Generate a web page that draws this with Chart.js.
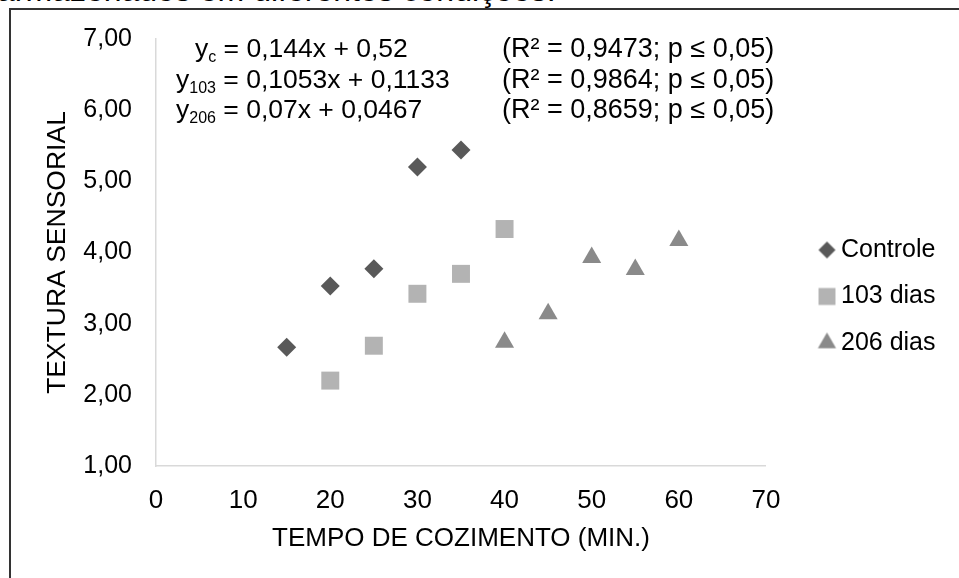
<!DOCTYPE html>
<html>
<head>
<meta charset="utf-8">
<script src="https://cdn.jsdelivr.net/npm/chart.js@4.4.1/dist/chart.umd.min.js"></script>
<style>
  html, body { margin: 0; padding: 0; background: #fff; overflow: hidden; }
  body { width: 959px; height: 578px; position: relative; font-family: "Liberation Sans", Arial, sans-serif; color: #000; }
  #caption { position: absolute; left: -3px; top: -26px; font-size: 32px; line-height: 32px; white-space: nowrap; }
  #frame { position: absolute; left: 9px; top: 8px; width: 1000px; height: 1000px; border-left: 2px solid #333; border-top: 2px solid #333; }
  #wrap { position: absolute; left: 0; top: 0; width: 959px; height: 578px; }
  .eq { position: absolute; font-size: 26.5px; white-space: nowrap; line-height: 30px; }
  .eq.r { font-size: 27px; }
  .eq sub { font-size: 16px; vertical-align: -5px; line-height: 0; }
</style>
</head>
<body>
<div id="caption">armazenados em diferentes condições.</div>
<div id="frame"></div>
<div id="wrap"><canvas id="chart"></canvas></div>
<script>
// Sensory texture vs cooking time, three storage conditions.
const seriesNames = ["Controle", "103 dias", "206 dias"];
const controleX = [15, 20, 25, 30, 35];
const controleY = [2.67, 3.53, 3.77, 5.20, 5.44];
const dias103X = [20, 25, 30, 35, 40];
const dias103Y = [2.20, 2.69, 3.42, 3.70, 4.33];
const dias206X = [40, 45, 50, 55, 60];
const dias206Y = [2.74, 3.14, 3.93, 3.76, 4.17];

// regression text shown in the upper-left of the plot
const eqSub = ["c", "103", "206"];
const eqFormula = ["0,144x + 0,52", "0,1053x + 0,1133", "0,07x + 0,0467"];
const eqStats = ["(R² = 0,9473; p ≤ 0,05)", "(R² = 0,9864; p ≤ 0,05)", "(R² = 0,8659; p ≤ 0,05)"];

const FONT = "'Liberation Sans', Arial, sans-serif";
const colors = ["#595959", "#b3b3b3", "#8a8a8a"];
const styles = ["rectRot", "rect", "triangle"];
const radii = [9.5, 12.7, 11];

// equations as overlay text
const eqLeft = [195, 176, 176];
const eqTop = [33, 64, 94];
eqFormula.forEach((f, i) => {
  const a = document.createElement("div");
  a.className = "eq";
  a.style.left = eqLeft[i] + "px";
  a.style.top = eqTop[i] + "px";
  a.innerHTML = `y<sub>${eqSub[i]}</sub> = ${f}`;
  document.body.appendChild(a);
  const b = document.createElement("div");
  b.className = "eq r";
  b.style.left = "502px";
  b.style.top = (eqTop[i] - 0.5) + "px";
  b.textContent = eqStats[i];
  document.body.appendChild(b);
});

// legend marker drawn on a small canvas, shifted right of the box area
function legendMarker(style, r, color, shift) {
  const w = Math.ceil(2 * (shift + r + 2)), h = Math.ceil(2 * r + 4);
  const c = document.createElement("canvas");
  c.width = w; c.height = h;
  const g = c.getContext("2d");
  const cx = w / 2 + shift, cy = h / 2;
  g.fillStyle = color;
  g.beginPath();
  if (style === "rectRot") {
    g.moveTo(cx - r, cy); g.lineTo(cx, cy - r); g.lineTo(cx + r, cy); g.lineTo(cx, cy + r);
  } else if (style === "rect") {
    const s = r * Math.SQRT1_2;
    g.rect(cx - s, cy - s, 2 * s, 2 * s);
  } else {
    g.moveTo(cx, cy - r);
    g.lineTo(cx + Math.sin(2 * Math.PI / 3) * r, cy - Math.cos(2 * Math.PI / 3) * r);
    g.lineTo(cx + Math.sin(4 * Math.PI / 3) * r, cy - Math.cos(4 * Math.PI / 3) * r);
  }
  g.closePath();
  g.fill();
  return c;
}
const legendRadii = [8.5, 12, 10.5];
const legendImgs = styles.map((s, i) => legendMarker(s, legendRadii[i], colors[i], 19));

const pts = (xs, ys) => xs.map((x, i) => ({ x, y: ys[i] }));
const datasets = [
  pts(controleX, controleY),
  pts(dias103X, dias103Y),
  pts(dias206X, dias206Y),
].map((data, i) => ({
  label: seriesNames[i],
  data,
  pointStyle: styles[i],
  pointRadius: radii[i],
  pointHoverRadius: radii[i],
  backgroundColor: colors[i],
  borderColor: colors[i],
  borderWidth: 0,
}));

const axisLine = { display: true, color: "#d9d9d9", width: 1.5 };

new Chart(document.getElementById("chart"), {
  type: "scatter",
  data: { datasets },
  options: {
    responsive: true, maintainAspectRatio: false,
    animation: false,
    layout: { padding: { left: 42, top: 37, right: 13.5, bottom: 22 } },
    scales: {
      x: {
        type: "linear", min: 0, max: 70,
        grid: { display: false, drawTicks: false },
        border: axisLine,
        ticks: { stepSize: 10, padding: 19, color: "#000", font: { family: FONT, size: 26 } },
        title: { display: true, text: "TEMPO DE COZIMENTO (MIN.)", color: "#000", padding: { top: 0, bottom: 2 }, font: { family: FONT, size: 26 } },
        afterFit: s => { s.height = 90; },
      },
      y: {
        min: 1, max: 7,
        grid: { display: false, drawTicks: false },
        border: axisLine,
        ticks: {
          stepSize: 1, padding: 24, color: "#000", font: { family: FONT, size: 25 },
          callback: v => v.toFixed(2).replace(".", ","),
        },
        title: { display: true, text: "TEXTURA SENSORIAL", color: "#000", padding: 0, font: { family: FONT, size: 26.5 } },
        afterFit: s => { s.width = 114; },
      },
    },
    plugins: {
      tooltip: { enabled: false },
      legend: {
        position: "right", align: "center",
        labels: {
          usePointStyle: true, pointStyleWidth: 41, boxHeight: 25, padding: 21.5,
          color: "#000", font: { family: FONT, size: 25 },
          generateLabels: chart => Chart.defaults.plugins.legend.labels.generateLabels(chart)
            .map((item, i) => Object.assign(item, { pointStyle: legendImgs[i] })),
        },
      },
    },
  },
});
</script>
</body>
</html>
